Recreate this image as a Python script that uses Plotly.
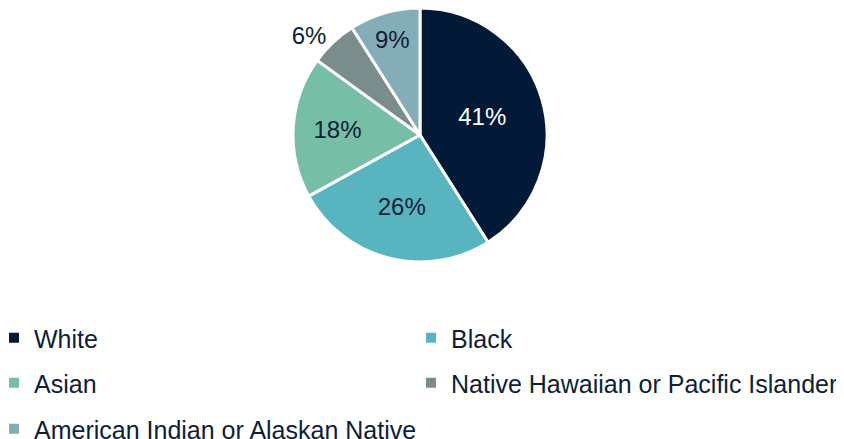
import plotly.graph_objects as go

labels = ["White", "Black", "Asian", "Native Hawaiian or Pacific Islander", "American Indian or Alaskan Native"]
values = [41, 26, 18, 6, 9]
colors = ["#021A37", "#58B5C0", "#77BEA6", "#7B8C8D", "#85ADB7"]
text_colors = ["#FFFFFF", "#0D1E36", "#0D1E36", "#0D1E36", "#0D1E36"]
text_positions = ["inside", "inside", "inside", "outside", "inside"]

FONT = "Liberation Sans, Arial, sans-serif"
DARK = "#0D1E36"

# the page has an 8px body margin; figure is sized to the visible part
W, H = 836, 431
OFF = 8

fig = go.Figure()
fig.add_trace(go.Pie(
    labels=labels,
    values=values,
    sort=False,
    direction="clockwise",
    rotation=0,
    marker=dict(colors=colors, line=dict(color="white", width=3)),
    textinfo="percent",
    texttemplate="%{value}%",
    textposition=text_positions,
    insidetextorientation="horizontal",
    insidetextfont=dict(color=text_colors, size=24, family=FONT),
    outsidetextfont=dict(color=DARK, size=24, family=FONT),
    showlegend=False,
    hole=0,
    domain=dict(x=[(293-OFF)/W, (547-OFF)/W], y=[(H-(262-OFF))/H, (H-(8-OFF))/H]),
))

# legend placement (page pixels of each item's marker centre)
legend_pos = [(15, 338), (432, 338), (15, 383), (432, 383), (15, 429)]
legend_names = ["legend", "legend2", "legend3", "legend4", "legend5"]

layout_legends = {}
for lab, col, lg, (px, py) in zip(labels, colors, legend_names, legend_pos):
    fig.add_trace(go.Scatter(
        x=[None], y=[None], mode="markers", name=lab,
        marker=dict(symbol="square", size=10, color=col),
        legend=lg, showlegend=True,
    ))
    layout_legends[lg] = dict(
        x=(px - OFF - 21) / W, y=(H - (py - OFF)) / H,
        xanchor="left", yanchor="middle", orientation="v",
        font=dict(family=FONT, size=25, color=DARK),
        bgcolor="rgba(0,0,0,0)", itemclick=False, itemdoubleclick=False,
    )

fig.update_layout(
    width=W, height=H,
    margin=dict(l=0, r=0, t=0, b=0, autoexpand=False),
    paper_bgcolor="white", plot_bgcolor="white",
    xaxis=dict(visible=False), yaxis=dict(visible=False),
    font=dict(family=FONT, color=DARK),
    **layout_legends,
)

fig.write_html("out.html")
